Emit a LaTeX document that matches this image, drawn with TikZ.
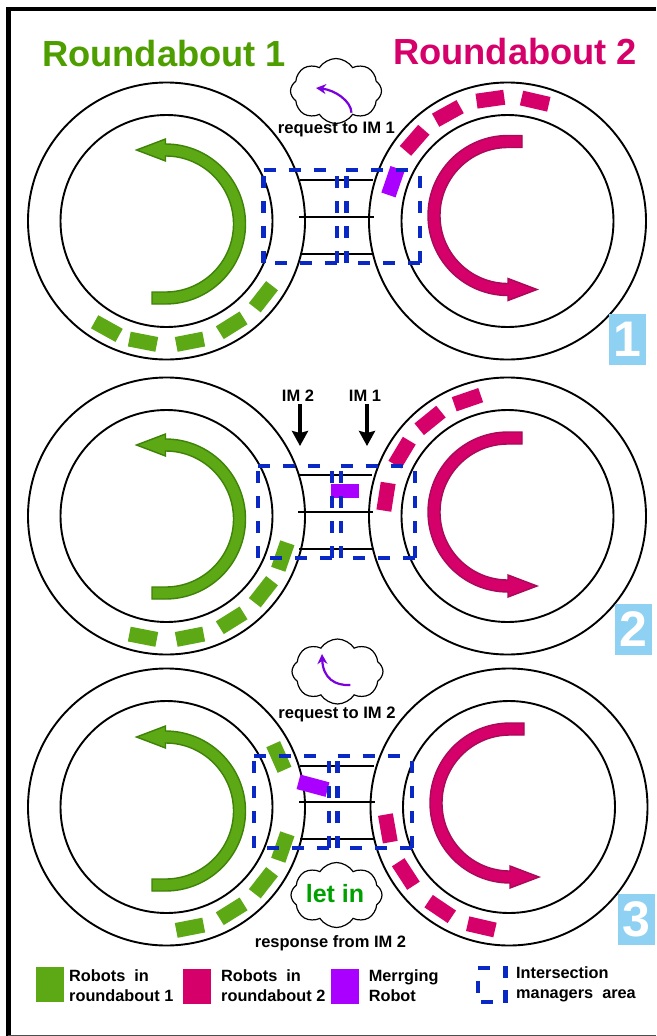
\documentclass[tikz,border=0pt]{standalone}
\usepackage{fontspec}
\setmainfont{Liberation Sans}
\usepackage{xcolor}
\usetikzlibrary{arrows.meta,shapes.symbols}
\definecolor{botgreen}{HTML}{5CA815}
\definecolor{darkgreen}{HTML}{3F8208}
\definecolor{titlegreen}{HTML}{4E9E00}
\definecolor{botred}{HTML}{D6006A}
\definecolor{darkred}{HTML}{A80A5A}
\definecolor{botpurple}{HTML}{AA00FF}
\definecolor{msgpurple}{HTML}{7A00E0}
\definecolor{imblue}{HTML}{0A28C4}
\definecolor{numblue}{HTML}{8ED1F2}
\definecolor{letgreen}{HTML}{00A000}
\tikzset{
  ring/.style={draw=black, line width=1.9pt},
  road/.style={draw=black, line width=1.8pt},
  imarea/.style={draw=imblue, line width=4.3pt, dash pattern=on 12pt off 13pt},
  botA/.style={fill=botgreen},
  botB/.style={fill=botred},
  botM/.style={fill=botpurple},
  turnA/.style={draw=darkgreen, fill=botgreen, line width=1.4pt},
  turnB/.style={draw=darkred, fill=botred, line width=1.4pt},
  titletext/.style={font=\fontsize{36.3}{36}\selectfont\bfseries, inner sep=0pt, anchor=base west},
  msgtext/.style={font=\fontsize{16.6}{18}\selectfont\bfseries, inner sep=0pt},
  bubble/.style={cloud, cloud puffs=8, cloud puff arc=115, aspect=1.45, draw=black, line width=1.2pt, inner sep=0pt, minimum width=91pt, minimum height=65pt},
  msgarrow/.style={-{Stealth[length=10pt,width=10pt]}, draw=msgpurple, line width=2.2pt},
  imarrow/.style={-{Stealth[length=15pt,width=16pt,inset=2pt]}, draw=black, line width=4.2pt},
  numbox/.style={fill=numblue, text=white, font=\fontsize{50}{50}\selectfont\bfseries, inner sep=0pt, minimum width=37pt, minimum height=51pt},
  swatch/.style={inner sep=0pt, minimum width=28pt, minimum height=35pt},
  legendtext/.style={font=\fontsize{16.3}{20}\selectfont\bfseries, align=left, anchor=west, inner sep=0pt}
}
% one dashed area, every side starts on a dash at its corner
\newcommand{\imbox}[4]{%
  \draw[imarea] (#1,#2)--(#3,#2) (#3,#4)--(#3,#2) (#3,#4)--(#1,#4) (#1,#4)--(#1,#2);}

\begin{document}
\begin{tikzpicture}[x=1pt,y=1pt,yscale=-1]
  \useasboundingbox (0,0) rectangle (656,1036);
  \fill[white] (0,0) rectangle (656,1036);

  % frame
  \draw[black, line width=4.4pt] (656,9)--(8.3,9)--(8.3,1036);
  \draw[black!70, line width=1.4pt] (8.3,1035.2)--(656,1035.2);

  % titles
  \node[titletext, text=titlegreen] (title1) at (42,66.7) {Roundabout 1};
  \node[titletext, text=botred] (title2) at (393,64.3) {Roundabout 2};

  % the two rings of each panel
  \foreach \cy/\cxr in {221/507.5,516/507.5,807/509}{
    \draw[ring] (166.5,\cy) circle (138.5);
    \draw[ring] (166.5,\cy) circle (106);
    \draw[ring] (\cxr,\cy) circle (138.5);
    \draw[ring] (\cxr,\cy) circle (106);
  }

  % big arrows
  \foreach \cx/\cy in {165.5/224,165.5/519,165.5/811}{
    \draw[turnA] (\cx-13.5,\cy+80)--(\cx,\cy+80) arc (90:-90:80)--(\cx,\cy-85)
      --(\cx-29,\cy-74)--(\cx,\cy-63)--(\cx,\cy-68) arc (-90:90:68)--(\cx-13.5,\cy+68)--cycle;
  }
  \foreach \cx/\cy in {508/215.5,508/512,510/803}{
    \draw[turnB] (\cx+14,\cy-80)--(\cx,\cy-80) arc (-90:-270:80)--(\cx,\cy+85)
      --(\cx+29,\cy+74)--(\cx,\cy+63)--(\cx,\cy+68) arc (90:270:68)--(\cx+14,\cy-68)--cycle;
  }

  % roads between the roundabouts
  \foreach \ya/\yb/\yc/\xl/\xr in {180.3/217/253.7/299/374,475.3/512/548.7/298/373,766/802.3/839/299/375}{
    \draw[road] (\xl+1,\ya)--(\xr-1,\ya);
    \draw[road] (\xl,\yb)--(\xr,\yb);
    \draw[road] (\xl+1,\yc)--(\xr-1,\yc);
  }

  % robots, by angle round their roundabout
  \foreach \a in {38,58,79,101,119}
    \fill[botA, shift={(166.5,221)}, rotate=\a] (115.5,-14)  rectangle (130.5,14);
  \foreach \a in {19,38,58,79,101}
    \fill[botA, shift={(166.5,516)}, rotate=\a] (115.5,-14)  rectangle (130.5,14);
  \foreach \a in {-24,19,38,58,79}
    \fill[botA, shift={(166.5,807)}, rotate=\a] (115.5,-14)  rectangle (130.5,14);
  \foreach \a in {221,241,262,283}
    \fill[botB, shift={(507.5,221)}, rotate=\a] (115.5,-14)  rectangle (130.5,14);
  \foreach \a in {189,211,231,251}
    \fill[botB, shift={(507.5,516)}, rotate=\a] (115.5,-14)  rectangle (130.5,14);
  \foreach \a in {170,147,124,103}
    \fill[botB, shift={(509,807)}, rotate=\a] (115.5,-14)  rectangle (130.5,14);

  % merging robot
  \fill[botM, shift={(393,181.7)}, rotate=-71] (-14,-7.5) rectangle (14,7.5);
  \fill[botM] (330.5,484) rectangle (358.5,497.6);
  \fill[botM, shift={(313,785.7)}, rotate=15] (-15,-7.5) rectangle (15,7.5);

  % intersection manager areas
  \imbox{263.6}{170}{337}{262.7}
  \imbox{346.4}{170}{420}{262.7}
  \imbox{258.3}{465.7}{332}{557.7}
  \imbox{340.7}{465.7}{414.7}{557.7}
  \imbox{254}{756}{328.8}{848}
  \imbox{337.5}{756}{412}{848}

  % messages
  \node[bubble] (cloud1) at (336,91) {};
  \coordinate (msg1a) at (351.5,112.7);
  \coordinate (msg1b) at (316,88);
  \draw[msgarrow] (msg1a) .. controls (351,101) and (335,90) .. (msg1b);
  \node[msgtext] (req1) at (336.4,130) {request to IM 1};

  \node[bubble] (cloud2) at (337.5,671.5) {};
  \coordinate (msg2a) at (350.3,685);
  \coordinate (msg2b) at (322,654);
  \draw[msgarrow] (msg2a) .. controls (335,686) and (323,678) .. (msg2b);
  \node[msgtext] (req2) at (337,714) {request to IM 2};

  \node[bubble] (cloud3) at (336.5,895) {};
  \node[font=\fontsize{25}{25}\selectfont\bfseries, text=letgreen, inner sep=0pt] (letin) at (335,894) {let in};
  \node[msgtext, font=\fontsize{16.5}{18}\selectfont\bfseries] (resp) at (330.5,943) {response from IM 2};

  % IM labels
  \node[font=\fontsize{16.5}{18}\selectfont\bfseries, inner sep=2pt] (im2) at (298,396) {IM 2};
  \node[font=\fontsize{16.5}{18}\selectfont\bfseries, inner sep=2pt] (im1) at (365,396) {IM 1};
  \coordinate (im2tip) at (300,446);
  \coordinate (im1tip) at (367,446);
  \draw[imarrow] (im2.south -| im2tip)--(im2tip);
  \draw[imarrow] (im1.south -| im1tip)--(im1tip);

  % panel numbers
  \node[numbox] (num1) at (627.5,339) {1};
  \node[numbox] (num2) at (633,629.5) {2};
  \node[numbox] (num3) at (636,919.5) {3};

  % legend
  \node[swatch, fill=botgreen] (key1) at (50,984.2) {};
  \node[swatch, fill=botred] (key2) at (197,986.5) {};
  \node[swatch, fill=botpurple] (key3) at (344.5,986.5) {};
  \node[legendtext] (keytext1) at (69,986) {Robots\ \ in\\roundabout 1};
  \node[legendtext] (keytext2) at (221,986) {Robots\ \ in\\roundabout 2};
  \node[legendtext] (keytext3) at (368.6,986) {Merrging\\Robot};
  \node[legendtext] (keytext4) at (516,984) {Intersection\\managers\ \ area};
  \draw[imarea, dash pattern=on 100pt off 0pt] (478,968)--(490,968) (505.5,966)--(505.5,978)
    (505.5,990)--(505.5,1002.7) (478,980.7)--(478,992.7) (481,1002.3)--(493,1002.3);
\end{tikzpicture}
\end{document}
